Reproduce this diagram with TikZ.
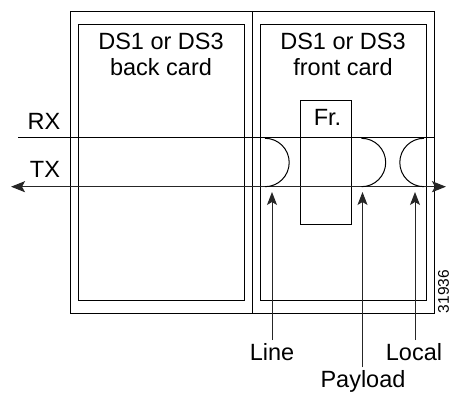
\documentclass[tikz,border=0pt]{standalone}
\usepackage{fontspec}
\setmainfont{Liberation Sans}
\usetikzlibrary{arrows.meta,positioning}

\begin{document}
\begin{tikzpicture}[
    x=1pt, y=-1pt,
    every node/.style={font=\fontsize{23.5}{26}\selectfont},
    outerbox/.style={rectangle, draw, line width=1pt, minimum width=182pt, minimum height=302pt, inner sep=0pt},
    innerbox/.style={rectangle, draw, line width=1pt, minimum width=166pt, minimum height=276pt, inner sep=0pt},
    framerbox/.style={rectangle, draw, line width=1pt, minimum width=51.5pt, minimum height=123.5pt, inner sep=0pt},
    title/.style={anchor=base, align=center},
    label/.style={anchor=base},
    wire/.style={line width=1pt},
    loop/.style={line width=1pt},
    txwire/.style={line width=1.3pt, draw=black!85, {Stealth[length=14pt, width=11pt, inset=3pt]}-{Stealth[length=14pt, width=11pt, inset=3pt]}},
    uparrow/.style={line width=1pt, draw=black!85, -{Stealth[length=13pt, width=10pt, inset=3pt]}}
]
    \useasboundingbox (0,0) rectangle (451,393);

    \node[outerbox] (backOuter) at (161,163) {};
    \node[innerbox] (backInner) at (161,162.3) {};
    \node[outerbox] (frontOuter) at (343,163) {};
    \node[innerbox] (frontInner) at (343,162.6) {};
    \node[framerbox] (framer) at (325.8,162.4) {};

    \node[title] (backTitle) at (161,76) {DS1 or DS3\\back card};
    \node[title] (frontTitle) at (343,76) {DS1 or DS3\\front card};
    \node[label] (frLabel) at (327.5,126) {Fr.};
    \node[label] (rxLabel) at (44,130) {RX};
    \node[label] (txLabel) at (45,178) {TX};

    \coordinate (rxStart) at (18,138);
    \coordinate (rxEnd) at (434,138);
    \coordinate (txStart) at (11,186.7);
    \coordinate (txEnd) at (446,186.7);
    \draw[wire] (rxStart) -- (rxEnd);
    \draw[txwire] (txStart) -- (txEnd);

    \coordinate (lineLoop) at (265,138.3);
    \coordinate (payloadLoop) at (361.5,138.3);
    \coordinate (localLoop) at (424,138.3);
    \draw[loop] (lineLoop) arc[start angle=-90, end angle=90, radius=24.2];
    \draw[loop] (payloadLoop) arc[start angle=-90, end angle=90, radius=24.2];
    \draw[loop] (localLoop) arc[start angle=-90, end angle=-270, radius=24.2];

    \node[label] (lineLabel) at (272,360.7) {Line};
    \node[label] (payloadLabel) at (363,388) {Payload};
    \node[label] (localLabel) at (414,360.7) {Local};
    \coordinate (lineTip) at (272,192);
    \coordinate (payloadTip) at (362.5,192);
    \coordinate (localTip) at (415,192);
    \draw[uparrow] (lineLabel.north -| lineTip) -- (lineTip);
    \draw[uparrow] (payloadLabel.north -| payloadTip) -- (payloadTip);
    \draw[uparrow] (localLabel.north -| localTip) -- (localTip);

    \node[rotate=90, inner sep=1pt, font=\fontsize{15.5}{18}\selectfont] (figNum) at (443.5,291.5) {31936};
\end{tikzpicture}
\end{document}
